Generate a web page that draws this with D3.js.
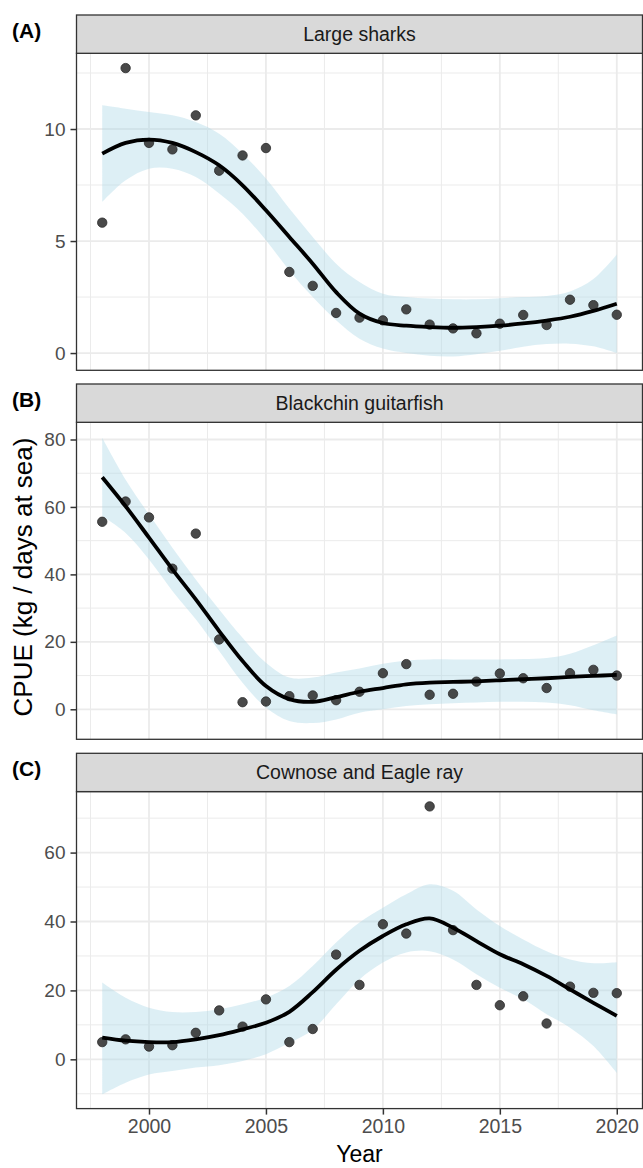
<!DOCTYPE html>
<html>
<head>
<meta charset="utf-8">
<script src="https://cdn.jsdelivr.net/npm/d3@7"></script>
<style>
  body { margin: 0; background: #fff; }
  svg { display: block; font-family: "Liberation Sans", Arial, sans-serif; }
</style>
</head>
<body>
<div id="chart"></div>
<script>
// Data (CPUE by year, with loess fit and its confidence band)
const years = [1998, 1999, 2000, 2001, 2002, 2003, 2004, 2005, 2006, 2007, 2008, 2009,
               2010, 2011, 2012, 2013, 2014, 2015, 2016, 2017, 2018, 2019, 2020];

const sharksObs   = [5.82, 12.72, 9.38, 9.09, 10.61, 8.14, 8.82, 9.15, 3.62, 3.0, 1.79, 1.58, 1.46, 1.95, 1.27, 1.1, 0.88, 1.31, 1.7, 1.25, 2.38, 2.14, 1.71];
const sharksFit   = [8.9, 9.38, 9.53, 9.38, 8.97, 8.38, 7.49, 6.37, 5.18, 3.99, 2.72, 1.76, 1.34, 1.22, 1.16, 1.13, 1.16, 1.22, 1.32, 1.45, 1.62, 1.88, 2.2];
const sharksUpper = [11.06, 10.91, 10.76, 10.61, 10.31, 9.79, 8.9, 7.79, 6.45, 5.18, 3.99, 3.17, 2.65, 2.5, 2.43, 2.4, 2.4, 2.45, 2.5, 2.55, 2.75, 3.3, 4.4];
const sharksLower = [6.74, 7.71, 8.23, 8.23, 7.86, 7.12, 6.22, 5.03, 3.69, 2.5, 1.46, 0.64, 0.2, 0.0, -0.12, -0.15, -0.05, 0.1, 0.28, 0.4, 0.42, 0.3, 0.0];

const guitarObs   = [55.6, 61.6, 56.9, 41.7, 52.1, 20.7, 2.1, 2.3, 3.9, 4.1, 2.7, 5.2, 10.7, 13.4, 4.3, 4.6, 8.2, 10.6, 9.2, 6.3, 10.7, 11.7, 10.0];
const guitarFit   = [68.8, 60.2, 50.9, 41.5, 32.6, 23.2, 14.3, 6.9, 3.0, 2.2, 3.6, 5.2, 6.3, 7.4, 7.9, 8.1, 8.3, 8.6, 8.9, 9.2, 9.6, 9.9, 10.2];
const guitarUpper = [80.5, 68.1, 57.8, 47.9, 38.5, 29.6, 21.2, 13.8, 9.4, 9.4, 10.9, 12.1, 13.5, 14.5, 14.8, 14.8, 14.8, 14.8, 14.9, 15.2, 16.5, 19, 21.9];
const guitarLower = [57.3, 52.3, 44.4, 35.1, 26.7, 17.3, 7.9, 0.5, -3.5, -4.1, -3.0, -1.0, 0, 1, 1.5, 1.8, 2.0, 2.2, 2.2, 2.0, 1.2, -0.3, -1.5];

const rayObs   = [5.0, 5.8, 3.7, 4.1, 7.7, 14.2, 9.5, 17.4, 5.0, 8.8, 30.4, 21.6, 39.2, 36.5, 73.4, 37.5, 21.6, 15.7, 18.3, 10.4, 21.1, 19.3, 19.2];
const rayFit   = [6.3, 5.4, 5.0, 5.0, 5.8, 7.0, 8.7, 10.6, 13.8, 19.5, 26.0, 31.5, 35.8, 39.2, 40.9, 38.2, 34.3, 30.5, 27.6, 24.2, 20.3, 16.4, 12.6];
const rayUpper = [22.3, 17.9, 15.0, 13.7, 13.7, 14.5, 16.0, 17.9, 21.3, 27.1, 33.9, 39.7, 44.0, 47.9, 50.8, 48.9, 43.5, 38.7, 34.8, 31.4, 29.0, 27.9, 28.2];
const rayLower = [-10.2, -6.8, -4.4, -3.4, -2.4, -1.7, -0.5, 1.5, 4.8, 8.6, 16.0, 23.2, 28.1, 31.0, 31.4, 29.0, 24.7, 20.8, 17.4, 13.1, 9.2, 3.9, -3.9];

const panelTitles = ["Large sharks", "Blackchin guitarfish", "Cownose and Eagle ray"];
const panelTags   = ["(A)", "(B)", "(C)"];
const xTicks      = [2000, 2005, 2010, 2015, 2020];
const xMinor      = [1997.5, 2002.5, 2007.5, 2012.5, 2017.5];
const yTicks      = [[0, 5, 10], [0, 20, 40, 60, 80], [0, 20, 40, 60]];
const yMinor      = [[2.5, 7.5, 12.5], [10, 30, 50, 70], [-10, 10, 30, 50, 70]];
const yDomains    = [[-0.77, 13.38], [-8.9, 85.1], [-14.3, 77.7]];

const series = [
  { obs: sharksObs, fit: sharksFit, upper: sharksUpper, lower: sharksLower },
  { obs: guitarObs, fit: guitarFit, upper: guitarUpper, lower: guitarLower },
  { obs: rayObs,    fit: rayFit,    upper: rayUpper,    lower: rayLower }
];

// Layout
const W = 643, H = 1168;
const left = 76.5, right = 642.5;
const panelTops = [15, 384, 753.3];
const stripH = 38.3, plotH = 317;

const svg = d3.select("#chart").append("svg")
  .attr("width", W)
  .attr("height", H);

const x = d3.scaleLinear()
  .domain([1996.9, 2021.1])
  .range([left, right]);

series.forEach((s, i) => {
  const top = panelTops[i];
  const pTop = top + stripH, pBot = pTop + plotH;

  const y = d3.scaleLinear()
    .domain(yDomains[i])
    .range([pBot, pTop]);

  const g = svg.append("g");

  // panel background
  g.append("rect")
    .attr("x", left).attr("y", pTop)
    .attr("width", right - left).attr("height", plotH)
    .attr("fill", "#fff");

  // minor grid
  g.selectAll(".vminor").data(xMinor).enter().append("line")
    .attr("x1", d => x(d)).attr("x2", d => x(d))
    .attr("y1", pTop).attr("y2", pBot)
    .attr("stroke", "#ebebeb").attr("stroke-width", 1);
  g.selectAll(".hminor").data(yMinor[i]).enter().append("line")
    .attr("x1", left).attr("x2", right)
    .attr("y1", d => y(d)).attr("y2", d => y(d))
    .attr("stroke", "#ebebeb").attr("stroke-width", 1);

  // major grid
  g.selectAll(".vmajor").data(xTicks).enter().append("line")
    .attr("x1", d => x(d)).attr("x2", d => x(d))
    .attr("y1", pTop).attr("y2", pBot)
    .attr("stroke", "#ebebeb").attr("stroke-width", 1.8);
  g.selectAll(".hmajor").data(yTicks[i]).enter().append("line")
    .attr("x1", left).attr("x2", right)
    .attr("y1", d => y(d)).attr("y2", d => y(d))
    .attr("stroke", "#ebebeb").attr("stroke-width", 1.8);

  const rows = years.map((yr, j) => ({ yr, obs: s.obs[j], fit: s.fit[j], up: s.upper[j], lo: s.lower[j] }));

  // confidence band
  const band = d3.area()
    .x(d => x(d.yr))
    .y0(d => y(d.lo))
    .y1(d => y(d.up))
    .curve(d3.curveCatmullRom);
  g.append("path")
    .datum(rows)
    .attr("d", band)
    .attr("fill", "#add8e6")
    .attr("fill-opacity", 0.42);

  // points
  g.selectAll(".dot").data(rows).enter().append("circle")
    .attr("cx", d => x(d.yr))
    .attr("cy", d => y(d.obs))
    .attr("r", 4.7)
    .attr("fill", "#3a3a3a")
    .attr("stroke", "#1a1a1a")
    .attr("stroke-width", 0.8)
    .attr("opacity", 0.92);

  // fitted line
  const line = d3.line()
    .x(d => x(d.yr))
    .y(d => y(d.fit))
    .curve(d3.curveCatmullRom);
  g.append("path")
    .datum(rows)
    .attr("d", line)
    .attr("fill", "none")
    .attr("stroke", "#000")
    .attr("stroke-width", 3.8);

  // panel border
  g.append("rect")
    .attr("x", left).attr("y", pTop)
    .attr("width", right - left).attr("height", plotH)
    .attr("fill", "none")
    .attr("stroke", "#333").attr("stroke-width", 1.3);

  // strip
  g.append("rect")
    .attr("x", left).attr("y", top)
    .attr("width", right - left).attr("height", stripH)
    .attr("fill", "#d9d9d9")
    .attr("stroke", "#333").attr("stroke-width", 1.3);
  g.append("text")
    .attr("x", (left + right) / 2)
    .attr("y", top + stripH / 2)
    .attr("dy", "0.36em")
    .attr("text-anchor", "middle")
    .attr("font-size", 19.5)
    .attr("fill", "#1a1a1a")
    .text(panelTitles[i]);

  // tag
  g.append("text")
    .attr("x", 12)
    .attr("y", top + 23)
    .attr("font-size", 21)
    .attr("font-weight", "bold")
    .attr("fill", "#000")
    .text(panelTags[i]);

  // y axis
  const yAxis = g.append("g")
    .attr("transform", `translate(${left},0)`)
    .call(d3.axisLeft(y).tickValues(yTicks[i]).tickSize(6).tickPadding(5).tickFormat(d3.format("d")));
  yAxis.select(".domain").remove();
  yAxis.selectAll(".tick line").attr("stroke", "#333").attr("stroke-width", 1.5);
  yAxis.selectAll(".tick text")
    .attr("fill", "#4d4d4d")
    .attr("font-size", 19)
    .attr("font-family", "Liberation Sans, Arial, sans-serif");

  // x axis only on last panel
  if (i === series.length - 1) {
    const xAxis = g.append("g")
      .attr("transform", `translate(0,${pBot})`)
      .call(d3.axisBottom(x).tickValues(xTicks).tickSize(6).tickPadding(5).tickFormat(d3.format("d")));
    xAxis.select(".domain").remove();
    xAxis.selectAll(".tick line").attr("stroke", "#333").attr("stroke-width", 1.5);
    xAxis.selectAll(".tick text")
      .attr("fill", "#4d4d4d")
      .attr("font-size", 19.5)
      .attr("font-family", "Liberation Sans, Arial, sans-serif");
  }
});

// axis titles
svg.append("text")
  .attr("x", (left + right) / 2)
  .attr("y", 1162)
  .attr("text-anchor", "middle")
  .attr("font-size", 23)
  .attr("fill", "#000")
  .text("Year");

svg.append("text")
  .attr("transform", "translate(32,577) rotate(-90)")
  .attr("text-anchor", "middle")
  .attr("font-size", 26)
  .attr("fill", "#000")
  .text("CPUE (kg / days at sea)");
</script>
</body>
</html>
